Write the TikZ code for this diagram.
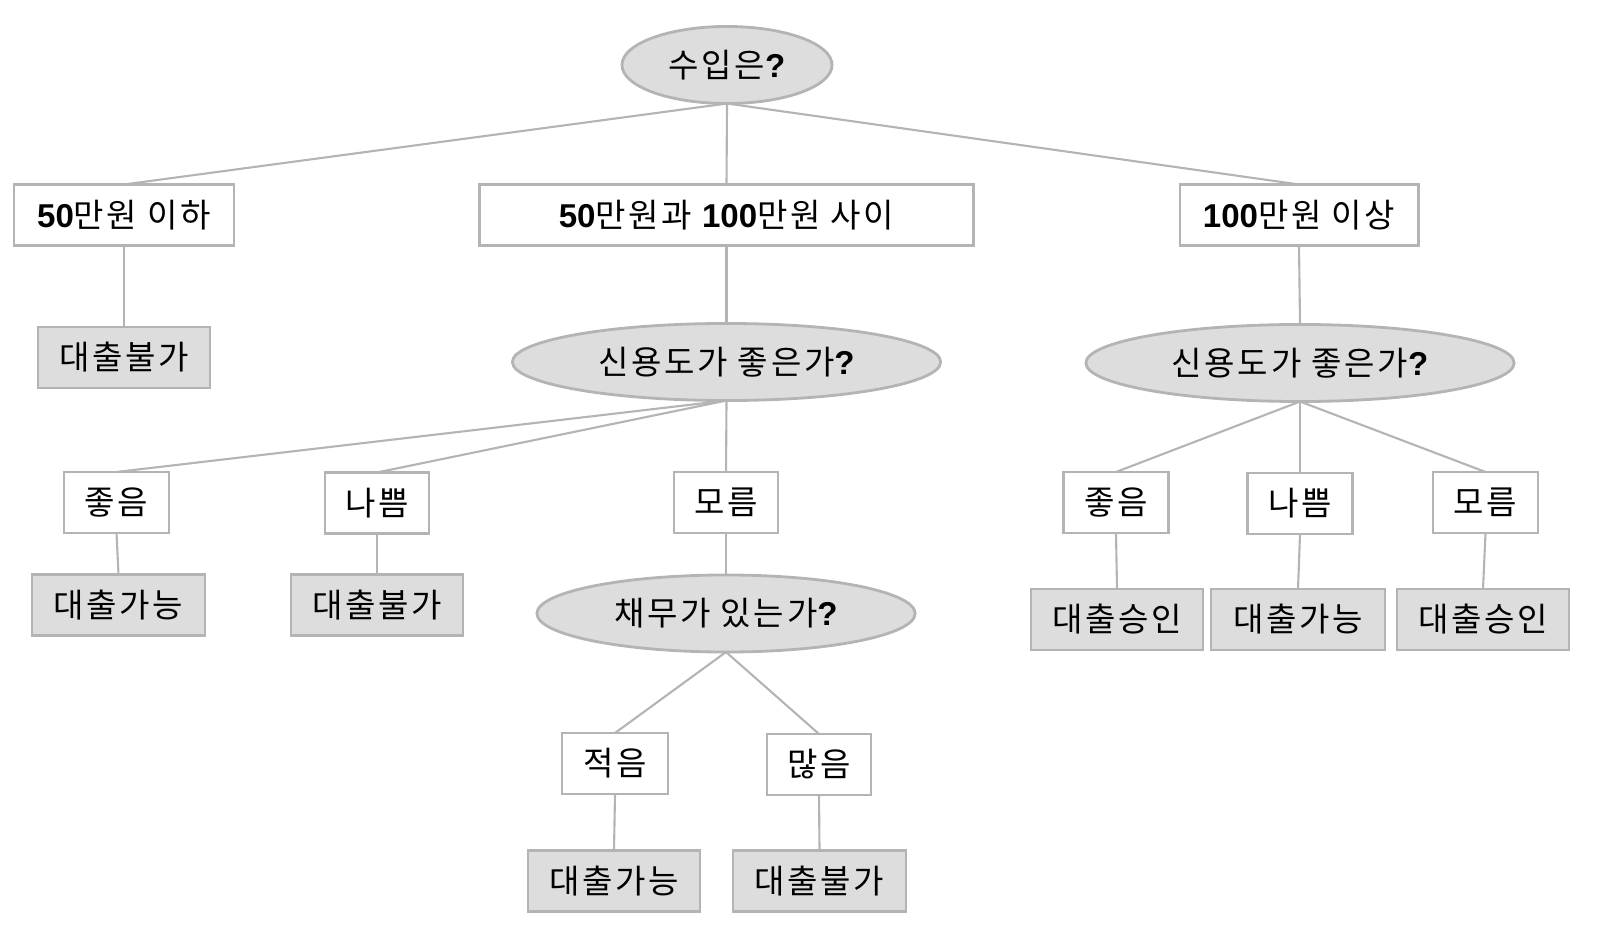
\documentclass[tikz,border=0pt]{standalone}
\usepackage{fontspec}
\setmainfont{Noto Sans CJK KR}[LetterSpace=8]
\newfontfamily\numfont{Liberation Sans}
\newcommand{\bnum}[1]{{\numfont\bfseries #1}}
\usepackage{tikz}
\usetikzlibrary{shapes.geometric}

\definecolor{linegray}{HTML}{B4B4B4}
\definecolor{boxfill}{HTML}{DDDDDD}

\begin{document}
\begin{tikzpicture}[x=0.01cm, y=-0.01cm,
    every node/.style={font=\fontsize{9.4}{11}\selectfont, inner sep=0pt, outer sep=0pt},
    box/.style={draw=linegray, line width=0.8pt, fill=white, minimum height=0.61cm},
    leaf/.style={box, fill=boxfill},
    ask/.style={ellipse, draw=linegray, line width=0.8pt, fill=boxfill, minimum height=0.77cm},
    edge/.style={draw=linegray, line width=0.6pt}]

    % =================================================================
    % 1. 그림 영역
    % =================================================================
    \useasboundingbox (0,0) rectangle (1601,937);

    % =================================================================
    % 2. 질문 (타원)
    % =================================================================
    \node[ask, minimum width=2.10cm] (income) at (727,65) {수입은\bnum{?}};
    \node[ask, minimum width=4.28cm] (credit1) at (726.5,362) {신용도가 좋은가\bnum{?}};
    \node[ask, minimum width=4.28cm] (credit2) at (1300,363) {신용도가 좋은가\bnum{?}};
    \node[ask, minimum width=3.78cm] (debt) at (726,613.5) {채무가 있는가\bnum{?}};

    % =================================================================
    % 3. 조건 (흰 상자)
    % =================================================================
    % 수입 구간
    \node[box, minimum width=2.20cm] (low) at (124,215) {\bnum{50}만원 이하};
    \node[box, minimum width=4.93cm] (mid) at (726.5,215) {\bnum{50}만원과 \bnum{100}만원 사이};
    \node[box, minimum width=2.38cm] (high) at (1299,215) {\bnum{100}만원 이상};

    % 신용도 (가운데)
    \node[box, minimum width=1.05cm] (good1) at (116.5,502.5) {좋음};
    \node[box, minimum width=1.04cm] (bad1) at (377,503) {나쁨};
    \node[box, minimum width=1.04cm] (unk1) at (726,502.5) {모름};

    % 신용도 (오른쪽)
    \node[box, minimum width=1.05cm] (good2) at (1116,502.5) {좋음};
    \node[box, minimum width=1.05cm] (bad2) at (1300,503.5) {나쁨};
    \node[box, minimum width=1.05cm] (unk2) at (1485.5,502.5) {모름};

    % 채무
    \node[box, minimum width=1.06cm] (few) at (615,763.5) {적음};
    \node[box, minimum width=1.04cm] (many) at (819,764.5) {많음};

    % =================================================================
    % 4. 결과 (회색 상자)
    % =================================================================
    \node[leaf, minimum width=1.72cm] (res1) at (124,357.5) {대출불가};
    \node[leaf, minimum width=1.73cm] (res2) at (118.5,605) {대출가능};
    \node[leaf, minimum width=1.72cm] (res3) at (377,605) {대출불가};
    \node[leaf, minimum width=1.72cm] (res4) at (614,881) {대출가능};
    \node[leaf, minimum width=1.73cm] (res5) at (819.5,881) {대출불가};
    \node[leaf, minimum width=1.72cm] (res6) at (1117,619.5) {대출승인};
    \node[leaf, minimum width=1.74cm] (res7) at (1298,619.5) {대출가능};
    \node[leaf, minimum width=1.72cm] (res8) at (1483,619.5) {대출승인};

    % =================================================================
    % 5. 연결선
    % =================================================================
    \draw[edge] (income.south) -- (low.north);
    \draw[edge] (income.south) -- (mid.north);
    \draw[edge] (income.south) -- (high.north);
    \draw[edge] (low.south) -- (res1.north);
    \draw[edge] (mid.south) -- (credit1.north);
    \draw[edge] (high.south) -- (credit2.north);

    \draw[edge] (credit1.south) -- (good1.north);
    \draw[edge] (credit1.south) -- (bad1.north);
    \draw[edge] (credit1.south) -- (unk1.north);
    \draw[edge] (good1.south) -- (res2.north);
    \draw[edge] (bad1.south) -- (res3.north);
    \draw[edge] (unk1.south) -- (debt.north);

    \draw[edge] (debt.south) -- (few.north);
    \draw[edge] (debt.south) -- (many.north);
    \draw[edge] (few.south) -- (res4.north);
    \draw[edge] (many.south) -- (res5.north);

    \draw[edge] (credit2.south) -- (good2.north);
    \draw[edge] (credit2.south) -- (bad2.north);
    \draw[edge] (credit2.south) -- (unk2.north);
    \draw[edge] (good2.south) -- (res6.north);
    \draw[edge] (bad2.south) -- (res7.north);
    \draw[edge] (unk2.south) -- (res8.north);

\end{tikzpicture}
\end{document}
